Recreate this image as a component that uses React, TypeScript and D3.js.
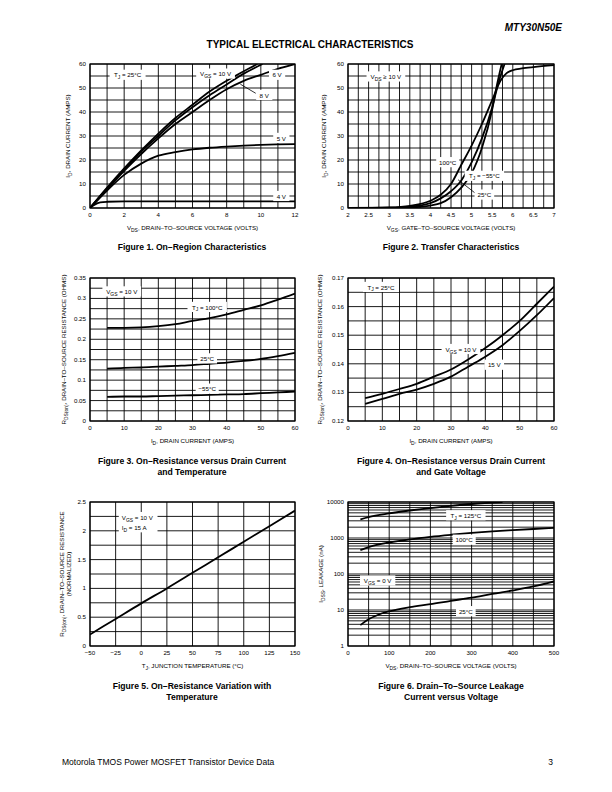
import React from 'react';
import * as d3 from 'd3';

const FONT = '"Liberation Sans", Arial, Helvetica, sans-serif';

// Figure 1 - On-region characteristics (V_DS vs I_D per V_GS)
const f1Vds = [0, 1, 2, 3, 4, 5, 6, 7, 8, 9, 9.8];
const f1Vgs10 = [0, 8.5, 16.5, 24, 31, 37.5, 43, 48.5, 53, 57, 60];
const f1VdsB = [0, 1, 2, 3, 4, 5, 6, 7, 8, 9, 10.1];
const f1Vgs8 = [0, 8.2, 16, 23.5, 30, 36.5, 42, 47, 51.5, 56, 60];
const f1VdsC = [0, 1, 2, 3, 4, 5, 6, 7, 8, 9, 10, 11, 12];
const f1Vgs6 = [0, 7.8, 15.5, 22.5, 29, 35, 40, 45, 49.5, 53, 55.5, 58, 60];
const f1Vgs5 = [0, 7.3, 13.8, 18.5, 21.8, 23.3, 24.4, 25.1, 25.6, 26, 26.3, 26.5, 26.6];
const f1VdsD = [0, 0.3, 0.6, 1, 2, 4, 8, 12];
const f1Vgs4 = [0, 1.5, 2.3, 2.6, 2.8, 2.8, 2.8, 2.8];

// Figure 2 - Transfer characteristics
const f2VgsA = [2, 2.5, 3, 3.5, 4, 4.25, 4.5, 4.75, 5, 5.25, 5.5, 5.7, 5.85, 6, 6.5, 7];
const f2T100 = [0, 0.05, 0.2, 0.9, 3, 5.5, 10, 18, 26, 35, 45, 53, 56.2, 57.4, 58.7, 59.5];
const f2VgsB = [2, 3, 3.5, 4, 4.25, 4.5, 4.75, 5, 5.25, 5.5, 5.65, 5.8];
const f2T25 = [0, 0.1, 0.5, 2, 4, 7, 11.5, 19, 29, 42, 52, 60];
const f2VgsC = [2, 3, 3.5, 4, 4.25, 4.5, 4.75, 5, 5.25, 5.5, 5.6, 5.73];
const f2Tm55 = [0, 0, 0.2, 1, 2, 4.5, 8.5, 14.5, 25, 41, 50, 60];

// Figure 3 - R_DS(on) vs I_D and temperature
const f3Id = [5, 10, 15, 20, 25, 30, 35, 40, 45, 50, 55, 60];
const f3T100 = [0.228, 0.228, 0.229, 0.232, 0.237, 0.245, 0.252, 0.261, 0.272, 0.283, 0.297, 0.312];
const f3T25 = [0.128, 0.13, 0.131, 0.133, 0.135, 0.137, 0.14, 0.143, 0.147, 0.152, 0.159, 0.167];
const f3Tm55 = [0.059, 0.06, 0.06, 0.061, 0.062, 0.063, 0.064, 0.065, 0.066, 0.068, 0.07, 0.072];

// Figure 4 - R_DS(on) vs I_D and gate voltage
const f4Id = [5, 10, 15, 20, 25, 30, 35, 40, 45, 50, 55, 60];
const f4Vgs10 = [0.128, 0.1295, 0.1312, 0.133, 0.1355, 0.138, 0.1415, 0.1455, 0.15, 0.155, 0.161, 0.167];
const f4Vgs15 = [0.126, 0.1277, 0.1295, 0.131, 0.133, 0.1355, 0.139, 0.1425, 0.1465, 0.1515, 0.157, 0.163];

// Figure 5 - normalized R_DS(on) vs junction temperature
const f5Tj = [-50, -25, 0, 25, 50, 75, 100, 125, 150];
const f5Rn = [0.2, 0.47, 0.74, 1.0, 1.27, 1.54, 1.81, 2.08, 2.35];

// Figure 6 - leakage vs V_DS
const f6VdsA = [30, 50, 100, 150, 200, 250, 300, 375];
const f6T125 = [3300, 3800, 4800, 5800, 6800, 7800, 8800, 10000];
const f6VdsB = [30, 50, 100, 150, 200, 250, 300, 350, 400, 450, 500];
const f6T100 = [460, 560, 750, 920, 1080, 1230, 1380, 1520, 1650, 1780, 1900];
const f6VdsC = [30, 50, 75, 100, 150, 200, 250, 300, 350, 400, 450, 500];
const f6T25 = [3.8, 5.5, 7.5, 9.2, 12, 14.5, 18, 22, 28, 35, 45, 62];

const steps = (a: number, b: number, s: number) =>
  d3.range(0, Math.round((b - a) / s) + 1).map((i) => +(a + i * s).toFixed(6));

type Seg = { t: string; sub: boolean };
function parse(s: string): Seg[] {
  const out: Seg[] = [];
  const re = /_\{([^}]*)\}/g;
  let last = 0;
  let m: RegExpExecArray | null;
  while ((m = re.exec(s))) {
    if (m.index > last) out.push({ t: s.slice(last, m.index), sub: false });
    out.push({ t: m[1], sub: true });
    last = m.index + m[0].length;
  }
  if (last < s.length) out.push({ t: s.slice(last), sub: false });
  return out;
}
const textWidth = (s: string, fs: number) =>
  parse(s).reduce((w, g) => w + g.t.length * (g.sub ? 0.8 : 1) * fs * 0.55, 0);

function Rich({ s, x, y, fs, anchor = 'start', weight, transform }: any) {
  const segs = parse(s);
  let shifted = false;
  return (
    <text x={x} y={y} fontSize={fs} textAnchor={anchor} fontWeight={weight} transform={transform} fontFamily={FONT}>
      {segs.map((g, i) => {
        let dy = 0;
        if (g.sub && !shifted) { dy = fs * 0.3; shifted = true; }
        else if (!g.sub && shifted) { dy = -fs * 0.3; shifted = false; }
        return (
          <tspan key={i} dy={dy} fontSize={g.sub ? fs * 0.8 : fs}>{g.t}</tspan>
        );
      })}
    </text>
  );
}

interface Box { l: number; r: number; t: number; b: number }
interface Label { x: number; y: number; s: string[]; anchor?: 'start' | 'middle' | 'end' }
interface PanelProps {
  id: string;
  box: Box;
  xDomain: [number, number];
  yDomain: [number, number];
  yLog?: boolean;
  xGrid: number[];
  yGrid: number[];
  xTicks: number[];
  yTicks: number[];
  xFmt?: (v: number) => string;
  yFmt?: (v: number) => string;
  series: { xs: number[]; ys: number[] }[];
  labels: Label[];
  leaders?: { x1: number; y1: number; x2: number; y2: number }[];
  xTitle: string;
  yTitle: string[];
  yTitleX: number[];
}

function Panel(p: PanelProps) {
  const { box } = p;
  const x = d3.scaleLinear().domain(p.xDomain).range([box.l, box.r]);
  const y = p.yLog
    ? d3.scaleLog().domain(p.yDomain).range([box.b, box.t])
    : d3.scaleLinear().domain(p.yDomain).range([box.b, box.t]);
  const line = d3.line<[number, number]>().x((d) => x(d[0])).y((d) => y(d[1])).curve(d3.curveMonotoneX);
  const fs = 6.2;
  const xf = p.xFmt || ((v: number) => String(v).replace('-', '\u2212'));
  const yf = p.yFmt || ((v: number) => String(v));
  const midY = (box.t + box.b) / 2;
  return (
    <g>
      <clipPath id={p.id}>
        <rect x={box.l} y={box.t} width={box.r - box.l} height={box.b - box.t} />
      </clipPath>
      {p.xGrid.map((v, i) => (
        <line key={'gx' + i} x1={x(v)} x2={x(v)} y1={box.t} y2={box.b} stroke="#000" strokeWidth={0.9} />
      ))}
      {p.yGrid.map((v, i) => (
        <line key={'gy' + i} x1={box.l} x2={box.r} y1={y(v)} y2={y(v)} stroke="#000" strokeWidth={0.9} />
      ))}
      <rect x={box.l} y={box.t} width={box.r - box.l} height={box.b - box.t} fill="none" stroke="#000" strokeWidth={1.2} />
      <g clipPath={`url(#${p.id})`}>
        {p.series.map((s, i) => (
          <path key={'s' + i} d={line(s.xs.map((v, j) => [v, s.ys[j]] as [number, number])) || ''} fill="none" stroke="#000" strokeWidth={1.8} />
        ))}
      </g>
      {(p.leaders || []).map((l, i) => (
        <line key={'ld' + i} x1={x(l.x1)} y1={y(l.y1)} x2={x(l.x2)} y2={y(l.y2)} stroke="#000" strokeWidth={0.8} />
      ))}
      {p.labels.map((lb, i) => {
        const w = Math.max(...lb.s.map((s) => textWidth(s, fs)));
        const anchor = lb.anchor || 'middle';
        const cx = x(lb.x);
        const left = anchor === 'middle' ? cx - w / 2 : anchor === 'start' ? cx : cx - w;
        const cy = y(lb.y);
        const h = lb.s.length * (fs + 4);
        return (
          <g key={'lb' + i}>
            <rect x={left - 3} y={cy - fs * 0.5 - 2.5} width={w + 6} height={h} fill="#fff" />
            {lb.s.map((s, k) => (
              <Rich key={k} s={s} x={cx} y={cy + fs * 0.35 + k * (fs + 4)} fs={fs} anchor={anchor} />
            ))}
          </g>
        );
      })}
      {p.xTicks.map((v, i) => (
        <text key={'tx' + i} x={x(v)} y={box.b + 9} fontSize={fs} textAnchor="middle" fontFamily={FONT}>{xf(v)}</text>
      ))}
      {p.yTicks.map((v, i) => (
        <text key={'ty' + i} x={box.l - 4} y={y(v) + 2} fontSize={fs} textAnchor="end" fontFamily={FONT}>{yf(v)}</text>
      ))}
      <Rich s={p.xTitle} x={(box.l + box.r) / 2} y={box.b + 22} fs={fs} anchor="middle" />
      {p.yTitle.map((t, i) => (
        <Rich key={'yt' + i} s={t} x={p.yTitleX[i]} y={midY} fs={fs} anchor="middle" transform={`rotate(-90 ${p.yTitleX[i]} ${midY})`} />
      ))}
    </g>
  );
}

const L: Box = { l: 90, r: 295, t: 0, b: 0 };
const R: Box = { l: 348, r: 554, t: 0, b: 0 };
const row1 = { t: 64, b: 208 };
const row2 = { t: 278, b: 421 };
const row3 = { t: 502, b: 646 };

function Caption({ x, y, lines }: { x: number; y: number; lines: string[] }) {
  return (
    <g>
      {lines.map((s, i) => (
        <text key={i} x={x} y={y + i * 11} fontSize={8.6} fontWeight="bold" textAnchor="middle" fontFamily={FONT}>{s}</text>
      ))}
    </g>
  );
}

export default function App() {
  const logGrid: number[] = [];
  for (let d = 0; d < 4; d++) for (let k = 1; k <= 9; k++) logGrid.push(k * Math.pow(10, d));
  logGrid.push(10000);
  return (
    <svg width={612} height={792} viewBox="0 0 612 792" style={{ position: 'absolute', left: 0, top: 0, background: '#fff' }}>
      <rect x={0} y={0} width={612} height={792} fill="#fff" />
      <text x={562} y={31} fontSize={10} fontWeight="bold" fontStyle="italic" textAnchor="end" fontFamily={FONT}>MTY30N50E</text>
      <text x={310} y={48} fontSize={10} fontWeight="bold" textAnchor="middle" fontFamily={FONT}>TYPICAL ELECTRICAL CHARACTERISTICS</text>

      <Panel
        id="c1"
        box={{ ...L, ...row1 }}
        xDomain={[0, 12]}
        yDomain={[0, 60]}
        xGrid={steps(0, 12, 1)}
        yGrid={steps(0, 60, 5)}
        xTicks={steps(0, 12, 2)}
        yTicks={steps(0, 60, 10)}
        series={[
          { xs: f1Vds, ys: f1Vgs10 },
          { xs: f1VdsB, ys: f1Vgs8 },
          { xs: f1VdsC, ys: f1Vgs6 },
          { xs: f1VdsC, ys: f1Vgs5 },
          { xs: f1VdsD, ys: f1Vgs4 },
        ]}
        leaders={[{ x1: 9.7, y1: 47.8, x2: 8.8, y2: 51.6 }]}
        labels={[
          { x: 2.2, y: 55.3, s: ['T_{J} = 25°C'] },
          { x: 7.35, y: 55.8, s: ['V_{GS} = 10 V'] },
          { x: 10.95, y: 55.3, s: ['6 V'] },
          { x: 10.2, y: 46.9, s: ['8 V'] },
          { x: 11.2, y: 29, s: ['5 V'] },
          { x: 11.2, y: 4.8, s: ['4 V'] },
        ]}
        xTitle="V_{DS}, DRAIN–TO–SOURCE VOLTAGE (VOLTS)"
        yTitle={['I_{D}, DRAIN CURRENT (AMPS)']}
        yTitleX={[70]}
      />

      <Panel
        id="c2"
        box={{ ...R, ...row1 }}
        xDomain={[2, 7]}
        yDomain={[0, 60]}
        xGrid={steps(2, 7, 0.25)}
        yGrid={steps(0, 60, 5)}
        xTicks={steps(2, 7, 0.5)}
        yTicks={steps(0, 60, 10)}
        series={[
          { xs: f2VgsA, ys: f2T100 },
          { xs: f2VgsB, ys: f2T25 },
          { xs: f2VgsC, ys: f2Tm55 },
        ]}
        leaders={[{ x1: 4.67, y1: 11.8, x2: 5.08, y2: 6.3 }]}
        labels={[
          { x: 2.92, y: 54.6, s: ['V_{DS} ≥ 10 V'] },
          { x: 4.42, y: 18.9, s: ['100°C'] },
          { x: 5.31, y: 13.2, s: ['T_{J} = −55°C'] },
          { x: 5.31, y: 5.4, s: ['25°C'] },
        ]}
        xTitle="V_{GS}, GATE–TO–SOURCE VOLTAGE (VOLTS)"
        yTitle={['I_{D}, DRAIN CURRENT (AMPS)']}
        yTitleX={[326]}
      />

      <Panel
        id="c3"
        box={{ ...L, ...row2 }}
        xDomain={[0, 60]}
        yDomain={[0, 0.35]}
        xGrid={steps(0, 60, 5)}
        yGrid={steps(0, 0.35, 0.025)}
        xTicks={steps(0, 60, 10)}
        yTicks={steps(0, 0.35, 0.05)}
        series={[
          { xs: f3Id, ys: f3T100 },
          { xs: f3Id, ys: f3T25 },
          { xs: f3Id, ys: f3Tm55 },
        ]}
        labels={[
          { x: 9.3, y: 0.316, s: ['V_{GS} = 10 V'] },
          { x: 34.3, y: 0.278, s: ['T_{J} = 100°C'] },
          { x: 34.3, y: 0.152, s: ['25°C'] },
          { x: 34.3, y: 0.078, s: ['−55°C'] },
        ]}
        xTitle="I_{D}, DRAIN CURRENT (AMPS)"
        yTitle={['R_{DS(on)}, DRAIN–TO–SOURCE RESISTANCE (OHMS)']}
        yTitleX={[66]}
      />

      <Panel
        id="c4"
        box={{ ...R, ...row2 }}
        xDomain={[0, 60]}
        yDomain={[0.12, 0.17]}
        xGrid={steps(0, 60, 5)}
        yGrid={steps(0.12, 0.17, 0.005)}
        xTicks={steps(0, 60, 10)}
        yTicks={steps(0.12, 0.17, 0.01)}
        series={[
          { xs: f4Id, ys: f4Vgs10 },
          { xs: f4Id, ys: f4Vgs15 },
        ]}
        labels={[
          { x: 9.6, y: 0.1667, s: ['T_{J} = 25°C'] },
          { x: 32.9, y: 0.145, s: ['V_{GS} = 10 V'] },
          { x: 42.6, y: 0.1395, s: ['15 V'] },
        ]}
        xTitle="I_{D}, DRAIN CURRENT (AMPS)"
        yTitle={['R_{DS(on)}, DRAIN–TO–SOURCE RESISTANCE (OHMS)']}
        yTitleX={[322]}
      />

      <Panel
        id="c5"
        box={{ ...L, ...row3 }}
        xDomain={[-50, 150]}
        yDomain={[0, 2.5]}
        xGrid={steps(-50, 150, 25)}
        yGrid={steps(0, 2.5, 0.25)}
        xTicks={steps(-50, 150, 25)}
        yTicks={steps(0, 2.5, 0.5)}
        series={[{ xs: f5Tj, ys: f5Rn }]}
        labels={[
          { x: -19, y: 2.23, s: ['V_{GS} = 10 V', 'I_{D} = 15 A'], anchor: 'start' },
        ]}
        xTitle="T_{J}, JUNCTION TEMPERATURE (°C)"
        yTitle={['R_{DS(on)}, DRAIN–TO–SOURCE RESISTANCE', '(NORMALIZED)']}
        yTitleX={[64, 71]}
      />

      <Panel
        id="c6"
        box={{ ...R, ...row3 }}
        xDomain={[0, 500]}
        yDomain={[1, 10000]}
        yLog
        xGrid={steps(0, 500, 50)}
        yGrid={logGrid}
        xTicks={steps(0, 500, 100)}
        yTicks={[1, 10, 100, 1000, 10000]}
        series={[
          { xs: f6VdsA, ys: f6T125 },
          { xs: f6VdsB, ys: f6T100 },
          { xs: f6VdsC, ys: f6T25 },
        ]}
        labels={[
          { x: 286, y: 4150, s: ['T_{J} = 125°C'] },
          { x: 282, y: 870, s: ['100°C'] },
          { x: 72, y: 64, s: ['V_{GS} = 0 V'] },
          { x: 286, y: 9, s: ['25°C'] },
        ]}
        xTitle="V_{DS}, DRAIN–TO–SOURCE VOLTAGE (VOLTS)"
        yTitle={['I_{DSS}, LEAKAGE (nA)']}
        yTitleX={[323]}
      />

      <Caption x={192} y={250} lines={['Figure 1. On–Region Characteristics']} />
      <Caption x={451} y={250} lines={['Figure 2. Transfer Characteristics']} />
      <Caption x={192} y={464} lines={['Figure 3. On–Resistance versus Drain Current', 'and Temperature']} />
      <Caption x={451} y={464} lines={['Figure 4. On–Resistance versus Drain Current', 'and Gate Voltage']} />
      <Caption x={192} y={689} lines={['Figure 5. On–Resistance Variation with', 'Temperature']} />
      <Caption x={451} y={689} lines={['Figure 6. Drain–To–Source Leakage', 'Current versus Voltage']} />

      <text x={62} y={765} fontSize={8.5} fontFamily={FONT}>Motorola TMOS Power MOSFET Transistor Device Data</text>
      <text x={553} y={765} fontSize={8.5} textAnchor="end" fontFamily={FONT}>3</text>
    </svg>
  );
}
